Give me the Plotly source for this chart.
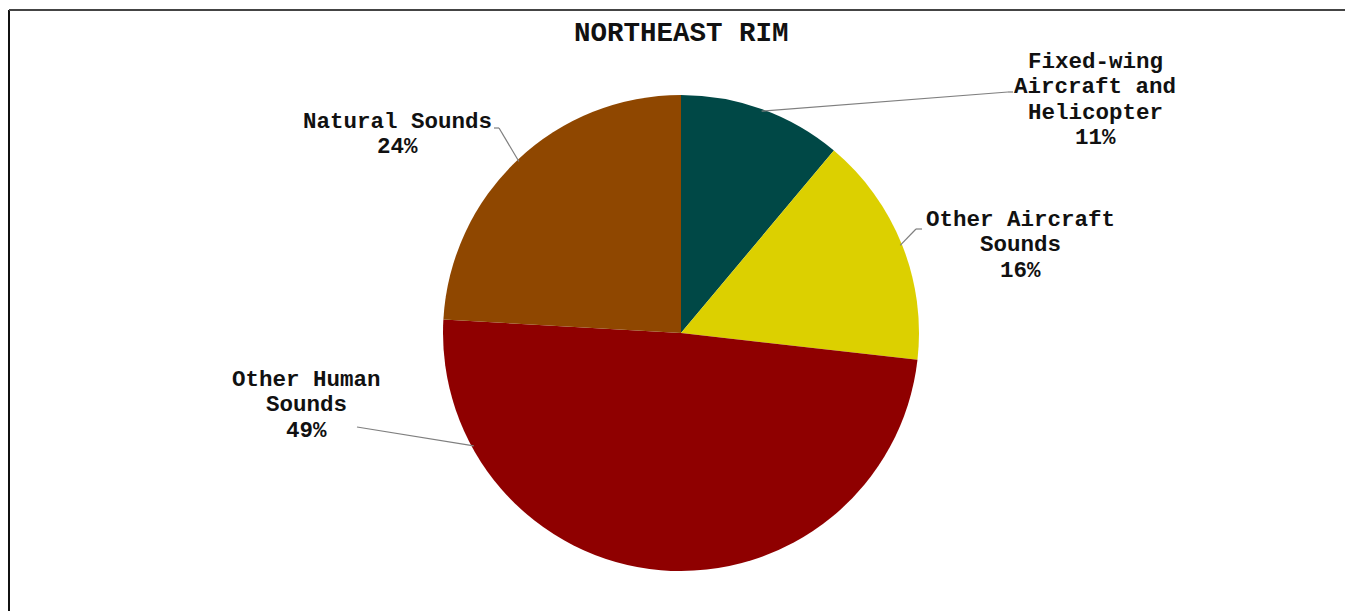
import math
import plotly.graph_objects as go

# ---- data ----
categories = ["Fixed-wing Aircraft and Helicopter", "Other Aircraft Sounds",
              "Other Human Sounds", "Natural Sounds"]
values = [11.1, 15.7, 49.1, 24.1]
label_lines = [["Fixed-wing", "Aircraft and", "Helicopter"],
               ["Other Aircraft", "Sounds"],
               ["Other Human", "Sounds"],
               ["Natural Sounds"]]
title_text = "NORTHEAST RIM"

# ---- style / layout ----
colors = ["#004846", "#DCD000", "#8F0000", "#8F4700"]
W, H = 1353, 611
OFF = 8  # page body margin
cx, cy, R = 681, 333, 238
FONT = "Liberation Mono, Courier New, monospace"

label_pos = [(1095, 62), (1021, 220), (306, 380), (397, 122)]   # first line centre (px)
line_gap = 25.3
elbows = [[(1008, 92), (1013, 92)],
          [(916, 229), (922, 229)],
          [(357, 427)],
          [(499, 128), (494, 128)]]
anchor_frac = [0.5, 0.5, 0.82, 0.5]


def px(x):
    return (x - OFF) / W


def py(y):
    return 1 - (y - OFF) / H


fig = go.Figure(go.Pie(
    labels=categories, values=values, sort=False, direction="clockwise",
    rotation=0, textinfo="none", hoverinfo="label+percent",
    marker=dict(colors=colors, line=dict(width=0)),
    domain=dict(x=[px(cx - R), px(cx + R)], y=[py(cy + R), py(cy - R)]),
    showlegend=False,
))

total = sum(values)
annotations = []
shapes = []
cum = 0.0
for i, v in enumerate(values):
    frac = cum + anchor_frac[i] * v / total
    th = 2 * math.pi * frac
    ex = cx + (R - 2) * math.sin(th)
    ey = cy - (R - 2) * math.cos(th)
    pts = [(ex, ey)] + elbows[i]
    for (x0, y0), (x1, y1) in zip(pts[:-1], pts[1:]):
        shapes.append(dict(type="line", xref="paper", yref="paper",
                           x0=px(x0), y0=py(y0), x1=px(x1), y1=py(y1),
                           line=dict(color="#7f7f7f", width=1.2)))
    lines = label_lines[i] + [f"{round(v / total * 100)}%"]
    lx, ly = label_pos[i]
    for k, t in enumerate(lines):
        annotations.append(dict(text=f"<b>{t}</b>", x=px(lx), y=py(ly + k * line_gap),
                                xref="paper", yref="paper", showarrow=False,
                                xanchor="center", yanchor="middle",
                                font=dict(family=FONT, size=22.5, color="#111")))
    cum += v / total

annotations.append(dict(text=f"<b>{title_text}</b>", x=px(681), y=py(34),
                        xref="paper", yref="paper", showarrow=False,
                        xanchor="center", yanchor="middle",
                        font=dict(family=FONT, size=27.5, color="#111")))

# frame
shapes += [
    dict(type="line", xref="paper", yref="paper", x0=px(9), x1=px(9), y0=py(10), y1=-0.05,
         line=dict(color="#111", width=2)),
    dict(type="line", xref="paper", yref="paper", x0=px(9), x1=px(1352), y0=py(10), y1=py(10),
         line=dict(color="#444", width=2)),
    dict(type="line", xref="paper", yref="paper", x0=px(1352), x1=px(1352), y0=py(10), y1=-0.05,
         line=dict(color="#999", width=1.5)),
]

fig.update_layout(width=W, height=H, margin=dict(l=0, r=0, t=0, b=0),
                  paper_bgcolor="white", plot_bgcolor="white",
                  annotations=annotations, shapes=shapes)
fig.write_html("out.html")
